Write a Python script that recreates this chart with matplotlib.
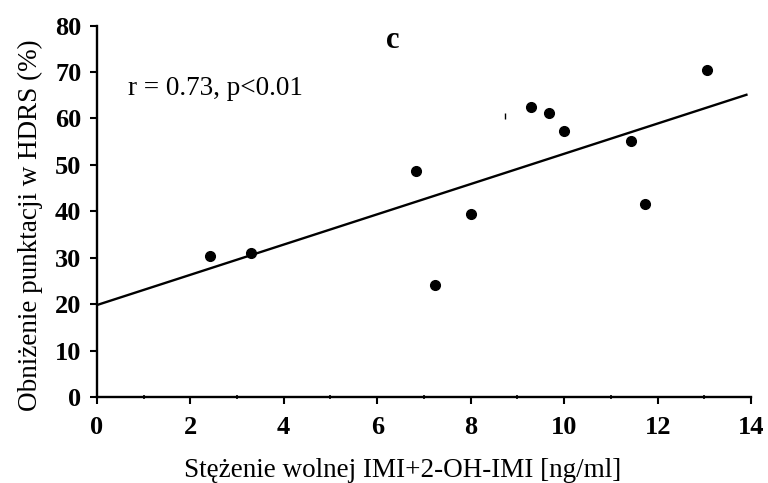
import matplotlib.pyplot as plt
import numpy as np

plt.rcParams['font.family'] = ['Liberation Serif', 'DejaVu Serif']

# stezenie wolnej IMI+2-OH-IMI vs obnizenie punktacji HDRS
stezenie = [2.42, 3.31, 6.82, 7.23, 8.01, 9.29, 9.68, 9.99, 11.42, 11.73, 13.05]
obnizenie = [30.3, 31.0, 48.7, 24.1, 39.4, 62.4, 61.2, 57.2, 55.2, 41.5, 70.4]

# regression line
line_x = [0.0, 13.9]
line_y = [19.8, 65.1]

fig = plt.figure(figsize=(7.68, 4.83), dpi=100)
ax = fig.add_axes([0.126, 0.178, 0.852, 0.769])

ax.plot(line_x, line_y, color='black', lw=1.7)
ax.plot(stezenie, obnizenie, 'o', color='black', markersize=7)
# stray mark
ax.plot([8.74], [60.5], marker='|', color='black', markersize=4, mew=1)

ax.set_xlim(0, 14)
ax.set_ylim(0, 80)
ax.set_xticks(np.arange(0, 15, 2))
ax.set_xticks(np.arange(1, 14, 2), minor=True)
ax.set_yticks(np.arange(0, 81, 10))

for s in ['top', 'right']:
    ax.spines[s].set_visible(False)
for s in ['left', 'bottom']:
    ax.spines[s].set_linewidth(1.7)

ax.tick_params(axis='both', which='major', direction='out', length=5, width=1.5,
               labelsize=19)
ax.tick_params(axis='y', which='major', pad=6)
ax.tick_params(axis='x', which='major', pad=9)
ax.tick_params(axis='x', which='minor', direction='inout', length=3, width=1.2)
for lab in ax.get_xticklabels() + ax.get_yticklabels():
    lab.set_fontweight('bold')

ax.set_xlabel('Stężenie wolnej IMI+2-OH-IMI [ng/ml]', fontsize=19.5)
ax.set_ylabel('Obniżenie punktacji w HDRS (%)', fontsize=19.5)
ax.xaxis.set_label_coords(0.467, -0.163)
ax.yaxis.set_label_coords(-0.082, 0.463)

ax.text(0.67, 66.5, 'r = 0.73, p<0.01', fontsize=19.5, va='center', ha='left')
ax.text(6.33, 76.8, 'c', fontsize=22, fontweight='bold', va='center', ha='center')

plt.savefig('out.png', dpi=100)
